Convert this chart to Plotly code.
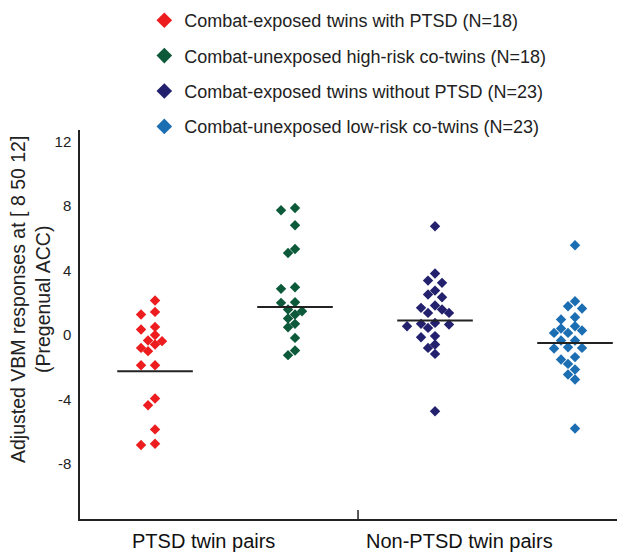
import plotly.graph_objects as go

# ---- data ----
series_names = [
    "Combat-exposed twins with PTSD (N=18)",
    "Combat-unexposed high-risk co-twins (N=18)",
    "Combat-exposed twins without PTSD (N=23)",
    "Combat-unexposed low-risk co-twins (N=23)",
]
ptsd_exposed = [2.14, 1.27, 1.43, 0.34, 0.50, 0.0, -0.38, -0.34, -0.59, -1.0, -0.8,
                -1.87, -1.87, -3.93, -4.35, -5.85, -6.82, -6.74]
ptsd_cotwins = [7.87, 7.73, 6.80, 5.33, 5.08, 2.96, 2.86, 1.99, 2.03, 1.47, 1.58,
                1.27, 1.02, 0.48, 0.69, -0.18, -1.25, -0.96]
nonptsd_exposed = [6.74, 3.81, 3.37, 3.23, 2.75, 2.34, 2.51, 1.83, 1.58, 1.68, 1.37,
                   1.37, 0.75, 0.54, 0.65, 0.44, 0.69, -0.07, -0.14, -0.80, -0.59,
                   -1.17, -4.72]
nonptsd_cotwins = [5.56, 2.09, 1.78, 1.64, 1.10, 0.96, 0.54, 0.40, 0.28, 0.13, 0.13,
                   -0.34, -0.34, -0.84, -0.80, -0.76, -1.52, -1.37, -1.79, -2.14,
                   -2.45, -2.76, -5.79]
group_lines = [-2.24, 1.74, 0.90, -0.49]   # horizontal group lines as drawn
group_pos = [1, 2, 3, 4]
pair_labels = ["PTSD twin pairs", "Non-PTSD twin pairs"]
pair_label_pos = [1.343, 3.178]
y_ticks = [12, 8, 4, 0, -4, -8]
y_tick_text = ["12", "8", "4", "0", "-4", "-8"]
colors = ["#ec1c1f", "#0d5a3b", "#23206e", "#1c6eb3"]

series_values = [ptsd_exposed, ptsd_cotwins, nonptsd_exposed, nonptsd_cotwins]

# ---- layout geometry (page body has an 8px margin) ----
W, H = 625, 554
ml, mr, mt, mb = 72, 8, 122, 43
yr = [-11.4, 12.7]
xr = [0.464, 4.357]
px_x = (W - ml - mr) / (xr[1] - xr[0])
px_y = (H - mt - mb) / (yr[1] - yr[0])


def swarm(vals, step=7.0, mind=7.5):
    """simple beeswarm: offsets in x data units"""
    order = sorted(range(len(vals)), key=lambda i: -vals[i])
    placed = []
    offs = [0.0] * len(vals)
    cands = [0]
    for k in range(1, 8):
        cands += [-k, k]
    for i in order:
        yp = vals[i] * px_y
        for c in cands:
            xp = c * step
            if all(((xp - a) ** 2 + (yp - b) ** 2) ** 0.5 >= mind for a, b in placed):
                placed.append((xp, yp))
                offs[i] = xp / px_x
                break
    return offs


fig = go.Figure()
for name, vals, pos, col in zip(series_names, series_values, group_pos, colors):
    offs = swarm(vals)
    fig.add_trace(go.Scatter(
        x=[pos + o for o in offs], y=vals, mode="markers", name=name,
        legendgroup=name,
        marker=dict(symbol="diamond", size=8, color=col),
    ))

for pos, m in zip(group_pos, group_lines):
    fig.add_shape(type="line", x0=pos - 0.27, x1=pos + 0.27, y0=m, y1=m,
                  line=dict(color="#222", width=2))

# middle tick on x axis
mid = (group_pos[1] + group_pos[2]) / 2 - 0.05
fig.add_shape(type="line", x0=mid, x1=mid, y0=yr[0], y1=yr[0] + 0.55,
              line=dict(color="#222", width=1.5))

for lab, xp in zip(pair_labels, pair_label_pos):
    fig.add_annotation(x=xp, y=-0.022, xref="x", yref="paper", yanchor="top",
                       xanchor="center", text=lab, showarrow=False,
                       font=dict(size=20, color="#111", family="Liberation Sans"))

fig.add_annotation(x=(31 - 80) / 545, y=0.563, xref="paper", yref="paper",
                   xanchor="center", yanchor="middle",
                   text="Adjusted VBM responses at [ 8 50 12]<br>(Pregenual ACC)",
                   textangle=-90, showarrow=False,
                   font=dict(size=19.5, color="#222", family="Liberation Sans"))

fig.update_layout(
    width=W, height=H,
    margin=dict(l=ml, r=mr, t=mt, b=mb, autoexpand=False),
    paper_bgcolor="white", plot_bgcolor="white",
    showlegend=True,
    legend=dict(x=0.118, y=1.329, xanchor="left", yanchor="top",
                font=dict(size=18, color="#222", family="Liberation Sans"),
                itemsizing="constant",
                tracegroupgap=9, itemwidth=30, bgcolor="rgba(0,0,0,0)"),
    xaxis=dict(range=xr, showgrid=False, zeroline=False, showticklabels=False,
               ticks="", showline=True, linecolor="#222", linewidth=1.5),
    yaxis=dict(range=yr, showgrid=False, zeroline=False, tickvals=y_ticks,
               ticktext=y_tick_text, ticklabelstandoff=4,
               ticks="", showline=True, linecolor="#222", linewidth=1.5,
               tickfont=dict(size=15, color="#222", family="Liberation Sans")),
)

fig.write_html("out.html")
